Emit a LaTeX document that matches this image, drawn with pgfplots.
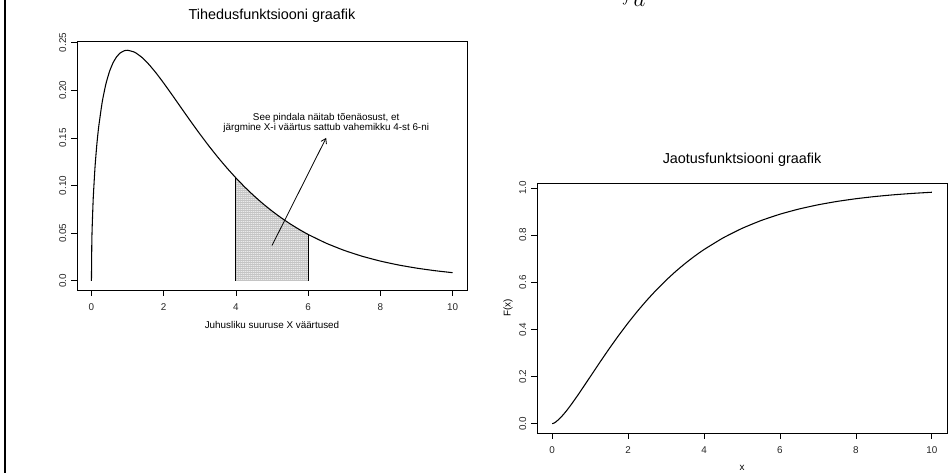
\documentclass[border=0pt]{standalone}
\usepackage{fontspec}
\setmainfont{Liberation Sans}
\usepackage{pgfplots}
\pgfplotsset{compat=1.18}
\usetikzlibrary{patterns.meta, arrows.meta}

\pgfplotstableread{
x f
0 0
0.01 0.03970
0.02 0.05586
0.05 0.08701
0.1 0.12001
0.15 0.14334
0.2 0.16143
0.3 0.18808
0.4 0.20658
0.5 0.21970
0.6 0.22893
0.7 0.23521
0.8 0.23919
0.9 0.24132
1.0 0.24197
1.2 0.23984
1.4 0.23440
1.6 0.22675
1.8 0.21761
2.0 0.20755
2.25 0.19427
2.5 0.18072
2.75 0.16727
3.0 0.15418
3.25 0.14162
3.5 0.12970
3.75 0.11847
4.0 0.10798
4.25 0.09822
4.5 0.08920
4.75 0.08087
5.0 0.07322
5.25 0.06622
5.5 0.05981
5.75 0.05397
6.0 0.04865
6.5 0.03944
7.0 0.03188
7.5 0.02570
8.0 0.02067
8.5 0.01659
9.0 0.01330
9.5 0.01064
10 0.00850
}\density

\pgfplotstableread{
x F
0 0
0.05 0.00293
0.1 0.00816
0.2 0.02241
0.3 0.03997
0.4 0.05975
0.5 0.08111
0.7 0.12680
1.0 0.19875
1.25 0.25895
1.5 0.31773
1.75 0.37412
2.0 0.42759
2.25 0.47783
2.5 0.52471
2.75 0.56820
3.0 0.60836
3.25 0.64533
3.5 0.67924
3.75 0.71024
4.0 0.73854
4.5 0.78771
5.0 0.82820
5.5 0.86136
6.0 0.88840
6.5 0.91033
7.0 0.92810
7.5 0.94244
8.0 0.95398
8.5 0.96327
9.0 0.97071
9.5 0.97667
10 0.98143
}\cdf

\pgfplotsset{
  Rstyle/.style={
    scale only axis, anchor=south west,
    axis line style={black, line width=0.6pt},
    tick align=outside, major tick length=4.5pt,
    tick pos=left,
    tick style={black, line width=0.5pt},
    ticklabel style={font=\fontsize{7.4}{8}\selectfont, text=black!85},
    xticklabel style={yshift=-2.5pt},
    yticklabel style={rotate=90, anchor=south},
    xmin=-0.4, xmax=10.4,
    xtick={0,2,4,6,8,10},
    xticklabels={0,2,4,6,8,10},
    every axis title shift=0pt,
    title style={font=\fontsize{10.8}{12}\selectfont, anchor=center},
    label style={font=\fontsize{7.4}{8}\selectfont},
  }
}

\begin{document}
\begin{tikzpicture}[x=0.75pt,y=0.75pt]
\useasboundingbox (0,0) rectangle (949,473);
\draw[line width=1.6pt] (5,-2) -- (5,475);
\node[anchor=south west, inner sep=0pt, font=\fontsize{24}{28}\selectfont] at (622,466) {$\displaystyle\int_{\,a}$};

% Left: density
\begin{axis}[Rstyle,
  at={(57.75pt,137.25pt)}, width=292.5pt, height=186.75pt,
  ymin=-0.00968, ymax=0.2517,
  ytick={0,0.05,0.1,0.15,0.2,0.25},
  yticklabels={0.0,0.05,0.10,0.15,0.20,0.25},
  title={Tihedusfunktsiooni graafik},
  title style={at={(axis description cs:0.5,1.10)}},
  xlabel={Juhusliku suuruse X väärtused},
  xlabel style={at={(axis description cs:0.5,-0.14)}, anchor=center},
]
\addplot[draw=none, pattern={Dots[distance=1.5pt, radius=0.38pt]}, pattern color=black]
  coordinates {(4,0) (4,0.10798) (4.25,0.09822) (4.5,0.08920) (4.75,0.08087) (5,0.07322) (5.25,0.06622) (5.5,0.05981) (5.75,0.05397) (6,0.04865) (6,0)} -- cycle;
\addplot[black, line width=0.6pt] coordinates {(4,0) (4,0.10798)};
\addplot[black, line width=0.6pt] coordinates {(6,0) (6,0.04865)};
\addplot[black, line width=0.8pt, smooth, tension=0.3] table[x=x, y=f] {\density};
\addplot[black, line width=0.6pt, -{Straight Barb[length=3.5pt, width=4.5pt]}] coordinates {(5,0.037) (6.5,0.15)};
\node[align=center, font=\fontsize{7.4}{7.6}\selectfont, inner sep=0pt] at (axis cs:6.5,0.166)
  {See pindala näitab tõenäosust, et\\järgmine X-i väärtus sattub vahemikku 4-st 6-ni};
\end{axis}

% Right: CDF
\begin{axis}[Rstyle,
  at={(402.75pt,30pt)}, width=307.5pt, height=187.5pt,
  ymin=-0.03926, ymax=1.02069,
  ytick={0,0.2,0.4,0.6,0.8,1.0},
  yticklabels={0.0,0.2,0.4,0.6,0.8,1.0},
  title={Jaotusfunktsiooni graafik},
  title style={at={(axis description cs:0.5,1.092)}},
  xlabel={x},
  xlabel style={at={(axis description cs:0.5,-0.14)}, anchor=center},
  ylabel={F(x)},
  ylabel style={at={(axis description cs:-0.0707,0.5)}, anchor=center},
]
\addplot[black, line width=0.8pt, smooth, tension=0.3] table[x=x, y=F] {\cdf};
\end{axis}
\end{tikzpicture}
\end{document}
